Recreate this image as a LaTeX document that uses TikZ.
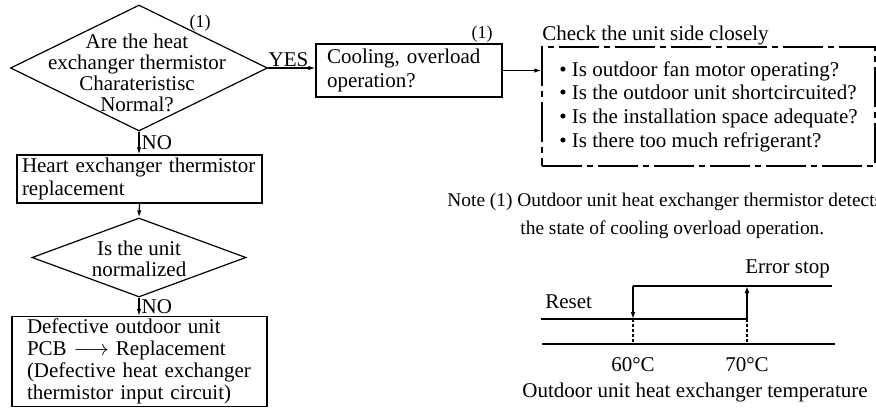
\documentclass[tikz,border=0pt]{standalone}
\usepackage{fontspec}
\setmainfont{Liberation Serif}
\usetikzlibrary{shapes.geometric, arrows.meta}

\begin{document}
\begin{tikzpicture}[
    x=0.5pt,
    y=-0.5pt,
    every node/.style={font=\fontsize{10.5}{11.5}\selectfont, inner sep=0pt},
    decision/.style={diamond, draw=black, line width=0.6pt, inner sep=0pt},
    stepbox/.style={rectangle, draw=black, line width=0.6pt, align=left},
    checkbox/.style={dash pattern=on 20pt off 2.5pt on 3pt off 2.5pt},
    flow/.style={draw=black, line width=0.6pt, -{Latex[length=3.5pt, width=2.2pt]}},
    hyst/.style={draw=black, line width=1pt},
    tip/.style={-{Latex[length=3.5pt, width=2.4pt]}},
    guide/.style={draw=black, line width=0.6pt, dash pattern=on 1.5pt off 1pt},
    smallnum/.style={font=\fontsize{9}{10}\selectfont},
    notetext/.style={anchor=base west, font=\fontsize{9.7}{11}\selectfont}
]
    \useasboundingbox (0,0) rectangle (876,407);

    % flow chart, left column
    \node[decision, minimum width=128.5pt, minimum height=63pt] (q1) at (139, 68) {};
    \node[align=center, font=\fontsize{10.5}{10.4}\selectfont] (q1txt) at (137, 73)
        {Are the heat\\exchanger thermistor\\Charateristisc\\Normal?};
    \node[smallnum] (q1note) at (200, 23) {(1)};

    \node[stepbox, minimum width=122.5pt, minimum height=24pt, text width=117.5pt] (repl) at (139.5, 179)
        {Heart exchanger thermistor\\replacement};

    \node[decision, minimum width=107pt, minimum height=39.5pt] (q2) at (139, 257.5) {};
    \node[align=center, font=\fontsize{10.5}{10.4}\selectfont] (q2txt) at (139, 259)
        {Is the unit\\normalized};

    \node[stepbox, minimum width=127.5pt, minimum height=45pt, text width=112.5pt,
          font=\fontsize{10.5}{11}\selectfont] (pcb) at (139.5, 361.5)
        {Defective outdoor unit\\PCB $\longrightarrow$ Replacement\\(Defective heat exchanger\\thermistor input circuit)};

    % flow chart, top row
    \node[stepbox, minimum width=93pt, minimum height=26.5pt, text width=82pt,
          font=\fontsize{10.5}{12}\selectfont] (cool) at (409, 70.5)
        {Cooling, overload\\operation?};
    \node[smallnum] (coolnote) at (482, 34) {(1)};

    \node[stepbox, checkbox, minimum width=166.5pt, minimum height=59.5pt,
          font=\fontsize{10.5}{11.85}\selectfont] (check) at (708.5, 106.5)
        {\textbullet\ Is outdoor fan motor operating?\\
         \textbullet\ Is the outdoor unit shortcircuited?\\
         \textbullet\ Is the installation space adequate?\\
         \textbullet\ Is there too much refrigerant?};
    \node[anchor=base west] (checktitle) at (542, 40) {Check the unit side closely};

    \draw[flow] (q1.east) -- node[anchor=south west, pos=0, yshift=0.5pt] (yes) {YES} (q1.east -| cool.west);
    \draw[flow] (cool.east) -- (cool.east -| check.west);
    \draw[flow] (q1.south) -- node[right=1pt] (no1) {NO} (q1.south |- repl.north);
    \draw[flow] (repl.south) -- (q2.north);
    \draw[flow] (q2.south) -- node[right=1pt] (no2) {NO} (q2.south |- pcb.north);

    % note
    \node[notetext] (note) at (447, 206) {Note (1) Outdoor unit heat exchanger thermistor detects};
    \node[notetext] (note2) at (520, 234) {the state of cooling overload operation.};

    % hysteresis of the error stop
    \coordinate (lo0) at (541, 319);
    \coordinate (lo1) at (747, 319);
    \coordinate (hi0) at (633, 286);
    \coordinate (hi1) at (832, 286);
    \coordinate (ax0) at (542, 344);
    \coordinate (ax1) at (835, 344);

    \draw[hyst] (lo0) -- (lo1);
    \draw[hyst] (hi0) -- (hi1);
    \draw[hyst, tip] (hi0) -- (hi0 |- lo0);
    \draw[hyst, tip] (lo1) -- (lo1 |- hi0);
    \draw[line width=0.7pt] (ax0) -- (ax1);

    \foreach \p/\lbl in {hi0/60, lo1/70}{
        \draw[guide] (\p |- lo0) -- (\p |- ax0);
        \node[anchor=base, yshift=-13.5pt] at (\p |- ax0) {\lbl°C};
    }

    \node[anchor=base west] (reset) at (545, 308) {Reset};
    \node[anchor=base west] (errstop) at (745, 273) {Error stop};
    \node[anchor=base west] (axistitle) at (522, 397) {Outdoor unit heat exchanger temperature};

\end{tikzpicture}
\end{document}
